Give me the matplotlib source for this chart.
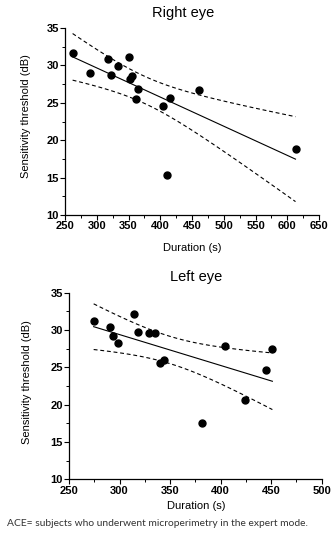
import numpy as np
import matplotlib
matplotlib.use("Agg")
import matplotlib.pyplot as plt
from matplotlib.ticker import MultipleLocator

plt.rcParams['font.family'] = ['Liberation Sans', 'DejaVu Sans']

# duration (s) vs sensitivity threshold (dB), one pair per eye
right_dur = [262, 290, 317, 323, 333, 350, 352, 356, 362, 365, 405, 411, 415, 461, 613]
right_sens = [31.7, 29.0, 30.8, 28.7, 29.9, 31.1, 28.2, 28.6, 25.5, 26.9, 24.6, 15.3, 25.7, 26.7, 18.8]

left_dur = [274.4, 290.2, 293.2, 298.2, 314.3, 318.3, 329.2, 335.1, 340.0, 344.3, 381.3, 404.4, 424.1, 444.9, 451.2]
left_sens = [31.2, 30.4, 29.2, 28.3, 32.1, 29.8, 29.6, 29.6, 25.6, 26.0, 17.6, 27.9, 20.6, 24.7, 27.5]

T975_13 = 2.1604  # t quantile, n-2 = 13 dof


def fit_band(x, y):
    # least squares line + 95% confidence band of the mean
    x = np.asarray(x, float)
    y = np.asarray(y, float)
    n = len(x)
    b, a = np.polyfit(x, y, 1)
    resid = y - (a + b * x)
    s = np.sqrt(np.sum(resid ** 2) / (n - 2))
    sxx = np.sum((x - x.mean()) ** 2)
    xs = np.linspace(x.min(), x.max(), 100)
    yfit = a + b * xs
    half = T975_13 * s * np.sqrt(1.0 / n + (xs - x.mean()) ** 2 / sxx)
    return xs, yfit, yfit - half, yfit + half


def panel(ax, x, y, xlim, xmajor):
    xs, yfit, lo, hi = fit_band(x, y)
    ax.plot(x, y, 'o', color='black', ms=5, zorder=3)
    ax.plot(xs, yfit, '-', color='black', lw=0.8)
    ax.plot(xs, lo, color='black', lw=0.8, dashes=(3.5, 2.5))
    ax.plot(xs, hi, color='black', lw=0.8, dashes=(3.5, 2.5))
    xt = np.arange(xlim[0], xlim[1] + 1, xmajor)
    yt = np.arange(10, 36, 5)
    ax.set_xticks(xt, [str(v) for v in xt], fontweight='bold', fontsize=8)
    ax.set_yticks(yt, [str(v) for v in yt], fontweight='bold', fontsize=8)
    ax.set_xlim(*xlim)
    ax.set_ylim(10, 35)
    ax.xaxis.set_minor_locator(MultipleLocator(xmajor / 2))
    ax.yaxis.set_minor_locator(MultipleLocator(2.5))
    for sp in ['top', 'right']:
        ax.spines[sp].set_visible(False)
    for sp in ['left', 'bottom']:
        ax.spines[sp].set_linewidth(0.9)
    ax.tick_params(which='major', direction='out', length=3.5, width=0.8, pad=1)
    ax.tick_params(which='minor', direction='out', length=2, width=0.7)


W, H = 336, 543
fig = plt.figure(figsize=(W / 100, H / 100), dpi=100)

ax1 = fig.add_axes([65 / W, 1 - 215 / H, 254 / W, 187 / H])
panel(ax1, right_dur, right_sens, (250, 650), 50)
ax2 = fig.add_axes([69 / W, 1 - 479.3 / H, 252.7 / W, 186.6 / H])
panel(ax2, left_dur, left_sens, (250, 500), 50)

fig.text(183 / W, 1 - 13 / H, 'Right eye', ha='center', va='center', fontsize=10.5)
fig.text(196 / W, 1 - 277 / H, 'Left eye', ha='center', va='center', fontsize=10.5)
fig.text(192 / W, 1 - 248 / H, 'Duration (s)', ha='center', va='center', fontsize=8)
fig.text(196 / W, 1 - 506 / H, 'Duration (s)', ha='center', va='center', fontsize=8)
fig.text(26 / W, 1 - 116 / H, 'Sensitivity threshold (dB)', ha='center', va='center',
         rotation=90, fontsize=8)
fig.text(27 / W, 1 - 382 / H, 'Sensitivity threshold (dB)', ha='center', va='center',
         rotation=90, fontsize=8)
fig.text(7 / W, 1 - 524 / H, 'ACE= subjects who underwent microperimetry in the expert mode.',
         ha='left', va='center', fontsize=7.4, color='#333333',
         family=['Lato', 'DejaVu Sans'])

fig.savefig('out.png', dpi=100)
